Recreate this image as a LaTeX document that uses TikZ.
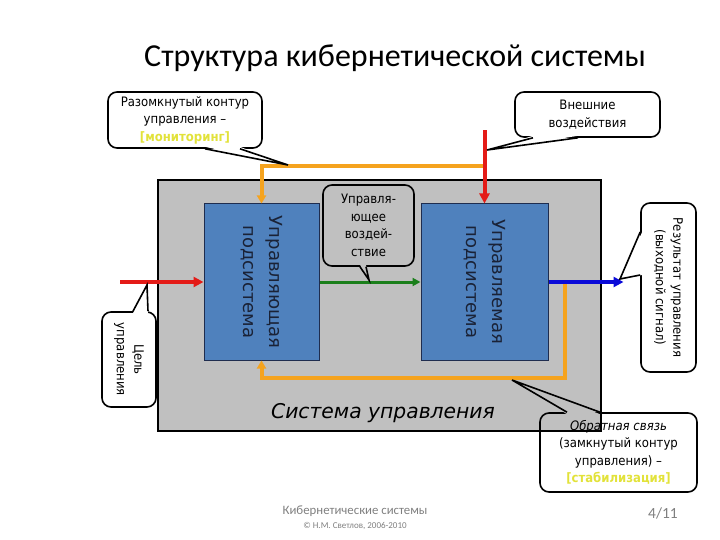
\documentclass[tikz,border=0pt]{standalone}
\usepackage{fontspec}
\setmainfont{Carlito}
\newfontfamily\tahoma{DejaVu Sans Condensed}
\newfontfamily\verdana{DejaVu Sans}
\usetikzlibrary{positioning, arrows.meta, calc}
\definecolor{sysgray}{HTML}{C0C0C0}
\definecolor{boxblue}{HTML}{4F81BD}
\definecolor{boxedge}{HTML}{1F2D4F}
\definecolor{boxtext}{HTML}{1A2236}
\definecolor{sigred}{HTML}{E41B17}
\definecolor{sigorange}{HTML}{F5A31E}
\definecolor{siggreen}{HTML}{1B7F1B}
\definecolor{sigblue}{HTML}{0A0AD8}
\definecolor{hilite}{HTML}{E2E23A}
\definecolor{footgray}{HTML}{7F7F7F}

\begin{document}
\begin{tikzpicture}[x=1pt, y=-1pt,
    sysbox/.style={rectangle, draw=black, line width=2pt, fill=sysgray},
    subsys/.style={rectangle, draw=boxedge, line width=1pt, fill=boxblue,
                   minimum height=156pt},
    subsystext/.style={rotate=-90, align=center, text=boxtext,
                       font=\verdana\fontsize{18}{26}\selectfont},
    callout/.style={rectangle, draw=black, line width=1.6pt, rounded corners=9pt,
                    align=center, font=\tahoma\fontsize{13}{17.5}\selectfont},
    calloutline/.style={draw=black, line width=1.6pt, line join=miter},
    sigarrow/.style={-{Triangle[length=10pt, width=10pt]}, line width=4pt},
    fbline/.style={-{Triangle[length=8pt, width=9pt]}, line width=4pt, sigorange},
    foot/.style={text=footgray}
  ]
    \useasboundingbox (0,0) rectangle (720,540);

    % title
    \node[font=\fontsize{32}{38}\selectfont] (title) at (395,58) {Структура кибернетической системы};

    % control system and its two subsystems
    \node[sysbox, minimum width=443pt, minimum height=251pt] (sys) at (379.5,305.5) {};
    \node[subsys, minimum width=115pt] (ctrl) at (261.5,282) {};
    \node[subsys, minimum width=127pt, right=101pt of ctrl] (plant) {};
    \node[subsystext] at (ctrl) {Управляющая\\подсистема};
    \node[subsystext] at (plant) {Управляемая\\подсистема};
    \node[font=\verdana\itshape\fontsize{20.3}{24}\selectfont] (syslabel) at (383,413) {Система управления};

    % free ends of the signals
    \coordinate (goalin) at (120,282);
    \coordinate (extin) at ($(plant.north)+(0,-73)$);
    \coordinate (topj) at ($(plant.north)+(0,-37)$);
    \coordinate (fbstart) at ($(plant.east)+(16,0)$);
    \coordinate (outtip) at ($(plant.east)+(75,0)$);

    % signals
    \draw[fbline] (topj) -| (ctrl.north);
    \draw[fbline] (fbstart) |- ($(ctrl.south)+(0,17)$) -- (ctrl.south);
    \draw[sigarrow, sigred] (extin) -- (plant.north);
    \draw[sigarrow, sigred] (goalin) -- (ctrl.west);
    \draw[sigarrow, siggreen, line width=3pt, -{Triangle[length=8pt, width=8pt]}] (ctrl.east) -- (plant.west);
    \draw[sigarrow, sigblue, line width=4.5pt] (plant.east) -- (outtip);

    % callouts
    \coordinate (tipopen) at (288,165);
    \node[callout, minimum width=154pt, minimum height=56pt] (open) at (185,120)
      {Разомкнутый контур\\управления –\\\textcolor{hilite}{\bfseries[мониторинг]}};
    \fill[white] ($(open.south)+(20,-2)$) -- (tipopen) -- ($(open.south)+(55,-2)$) -- cycle;
    \draw[calloutline] ($(open.south)+(20,0)$) -- (tipopen) -- ($(open.south)+(55,0)$);

    \coordinate (tipext) at (487,150);
    \node[callout, minimum width=145pt, minimum height=45pt] (ext) at (587.5,114.5)
      {Внешние\\воздействия};
    \fill[white] ($(ext.south)+(-54.5,-2)$) -- (tipext) -- ($(ext.south)+(-9.5,-2)$) -- cycle;
    \draw[calloutline] ($(ext.south)+(-54.5,0)$) -- (tipext) -- ($(ext.south)+(-9.5,0)$);

    \coordinate (tipact) at (369,280);
    \node[callout, minimum width=91pt, minimum height=81pt] (act) at (368.5,225.5)
      {Управля-\\ющее\\воздей-\\ствие};
    \fill[sysgray] ($(act.south)+(-8.5,-2)$) -- (tipact) -- ($(act.south)+(-2.5,-2)$) -- cycle;
    \draw[calloutline] ($(act.south)+(-8.5,0)$) -- (tipact) -- ($(act.south)+(-2.5,0)$);

    \coordinate (tipgoal) at (147,285);
    \node[callout, minimum width=54pt, minimum height=95pt] (goal) at (129,359.5) {};
    \node[callout, draw=none, rotate=-90] at (goal) {Цель\\управления};
    \fill[white] ($(goal.north)+(4,2)$) -- (tipgoal) -- ($(goal.north)+(19,2)$) -- cycle;
    \draw[calloutline] ($(goal.north)+(4,0)$) -- (tipgoal) -- ($(goal.north)+(19,0)$);

    \coordinate (tipresult) at (620,279);
    \node[callout, minimum width=55pt, minimum height=169pt] (result) at (668.5,287.5) {};
    \node[callout, draw=none, rotate=-90] at (result) {Результат управления\\(выходной сигнал)};
    \fill[white] ($(result.west)+(2,-55.5)$) -- (tipresult) -- ($(result.west)+(2,-12.5)$) -- cycle;
    \draw[calloutline] ($(result.west)+(0,-55.5)$) -- (tipresult) -- ($(result.west)+(0,-12.5)$);

    \coordinate (tipfb) at (512,380);
    \node[callout, minimum width=157pt, minimum height=79pt] (fb) at (618.5,452.5)
      {\textit{Обратная связь}\\(замкнутый контур\\управления) –\\\textcolor{hilite}{\bfseries[стабилизация]}};
    \fill[sysgray] ($(fb.north)+(-51.5,2)$) -- (tipfb) -- ($(fb.north)+(-18.5,2)$) -- cycle;
    \draw[calloutline] ($(fb.north)+(-51.5,0)$) -- (tipfb) -- ($(fb.north)+(-18.5,0)$);

    % footer
    \node[foot, font=\fontsize{12.8}{14}\selectfont] (course) at (355,511) {Кибернетические системы};
    \node[foot, font=\fontsize{9}{10}\selectfont, below=-1pt of course] (copy) {© Н.М. Светлов, 2006-2010};
    \node[foot, font=\fontsize{15.5}{17}\selectfont] (page) at (663,513) {4/11};
\end{tikzpicture}
\end{document}
